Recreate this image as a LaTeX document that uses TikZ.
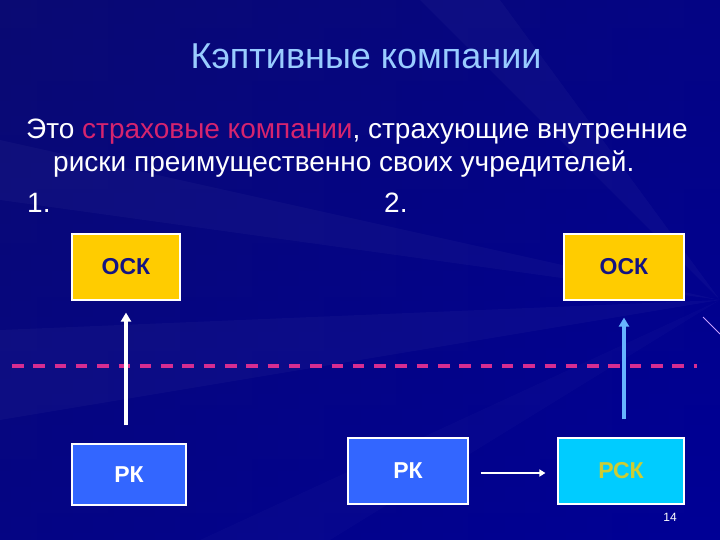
\documentclass[tikz,border=0pt]{standalone}
\usepackage{fontspec}
\setmainfont{Liberation Sans}
\usetikzlibrary{arrows.meta}
\definecolor{bgdark}{RGB}{10,10,115}
\definecolor{bgmid}{RGB}{0,0,150}
\definecolor{titleblue}{RGB}{153,204,255}
\definecolor{hlred}{RGB}{214,36,110}
\definecolor{dashpink}{RGB}{214,45,145}
\definecolor{oskyellow}{RGB}{255,204,0}
\definecolor{oskText}{RGB}{20,20,130}
\definecolor{rkblue}{RGB}{51,102,255}
\definecolor{rskcyan}{RGB}{0,204,255}
\definecolor{rskText}{RGB}{204,204,51}
\definecolor{arrowblue}{RGB}{102,179,255}
\definecolor{streak}{RGB}{200,160,255}
\tikzset{
  boxbase/.style={draw=white, line width=1.2pt, inner sep=0pt, font=\bfseries\fontsize{23}{23}\selectfont},
  oskbox/.style={boxbase, fill=oskyellow, text=oskText, minimum width=108pt, minimum height=66pt},
  rkbox/.style={boxbase, fill=rkblue, text=white},
  rskbox/.style={boxbase, fill=rskcyan, text=rskText},
  bodytext/.style={anchor=base west, inner sep=0pt, text=white, font=\fontsize{28}{28}\selectfont},
  uparrow/.style={line width=4pt, -{Triangle[length=9pt,width=10pt]}},
  thinarrow/.style={draw=white, line width=2pt, -{Triangle[length=6pt,width=7pt]}},
  dashline/.style={draw=dashpink, line width=3.5pt, dash pattern=on 11.5pt off 9.8pt}
}
\begin{document}
\begin{tikzpicture}[x=1pt,y=-1pt]
\useasboundingbox (0,0) rectangle (720,540);
% background
\shade[top color=bgdark, bottom color=bgmid] (0,0) rectangle (720,540);
\shade[left color=bgdark, right color=bgmid, opacity=0.5] (0,0) rectangle (720,540);
\fill[white, opacity=0.03] (720,300) -- (0,140) -- (0,200) -- cycle;
\fill[white, opacity=0.03] (720,300) -- (0,330) -- (0,420) -- cycle;
\fill[white, opacity=0.03] (720,300) -- (420,0) -- (500,0) -- cycle;
\fill[white, opacity=0.02] (720,300) -- (200,540) -- (330,540) -- cycle;
\draw[streak, line width=0.8pt] (703,317) -- (720,334);
% title
\node[anchor=base, inner sep=0pt, text=titleblue, font=\fontsize{36}{36}\selectfont] (title) at (366,69) {Кэптивные компании};
% body
\node[bodytext] (line1) at (26,139) {Это \textcolor{hlred}{страховые компании}, страхующие внутренние};
\node[bodytext] (line2) at (53,172) {риски преимущественно своих учредителей.};
\node[bodytext] (n1) at (27,212) {1.};
\node[bodytext] (n2) at (384,212) {2.};
% boxes
\node[oskbox] (osk1) at (126,267) {ОСК};
\node[oskbox, minimum width=120pt] (osk2) at (624,267) {ОСК};
\node[rkbox, minimum width=114pt, minimum height=61pt] (rk1) at (129,474.5) {РК};
\node[rkbox, minimum width=120pt, minimum height=66pt] (rk2) at (408,471) {РК};
\node[rskbox, minimum width=126pt, minimum height=66pt] (rsk) at (621,471) {РСК};
% dashed line
\coordinate (dl) at (12,366);
\coordinate (dr) at (697,366);
\draw[dashline] (dl) -- (dr);
% arrows
\draw[uparrow, draw=white, fill=white, shorten <=18pt, shorten >=12pt] (rk1.north -| osk1) -- (osk1.south);
\draw[uparrow, draw=arrowblue, fill=arrowblue, shorten <=18pt, shorten >=17pt] (rsk.north -| osk2) -- (osk2.south);
\draw[thinarrow, shorten <=12pt, shorten >=12pt] ([yshift=-2pt]rk2.east) -- ([yshift=-2pt]rsk.west);
% page number
\node[anchor=base, inner sep=0pt, text=white, font=\fontsize{12}{12}\selectfont] (pg) at (670,521) {14};
\end{tikzpicture}
\end{document}
